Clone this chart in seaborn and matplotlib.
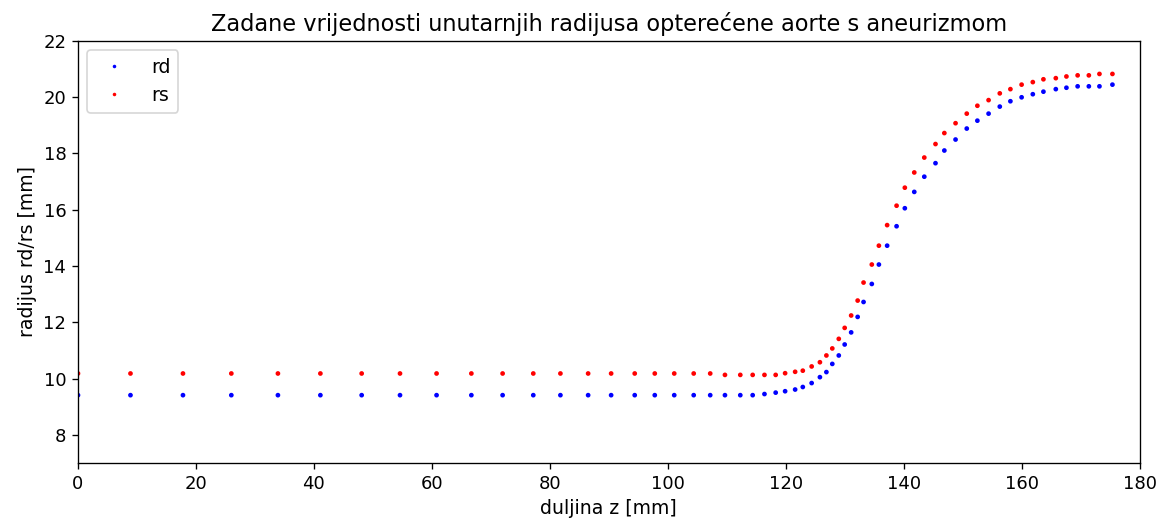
import matplotlib
matplotlib.use("Agg")
import matplotlib.pyplot as plt
import seaborn as sns
import pandas as pd

# Axial positions along the aorta [mm]
z = [0, 8.9, 17.8, 26.0, 33.9, 41.1, 48.1, 54.6, 60.8, 66.7,
     72.0, 77.2, 81.8, 86.5, 90.4, 94.4, 97.8, 101.1, 104.4, 107.2,
     109.7, 112.3, 114.4, 116.4, 118.3, 119.9, 121.6, 122.9, 124.4, 125.8,
     126.9, 127.9, 129.0, 130.0, 131.1, 132.2, 133.2, 134.6, 135.8, 137.2,
     138.8, 140.2, 141.8, 143.5, 145.4, 146.9, 148.8, 150.7, 152.5, 154.4,
     156.3, 158.1, 160.0, 161.9, 163.7, 165.8, 167.6, 169.5, 171.4, 173.2,
     175.4]

# Inner radius, diastolic [mm]
rd = [9.41] * 23 + [9.45, 9.50, 9.55, 9.61, 9.70, 9.84, 10.05, 10.23, 10.52,
      10.82, 11.21, 11.64, 12.19, 12.72, 13.36, 14.05, 14.72, 15.41, 16.05,
      16.63, 17.17, 17.65, 18.10, 18.49, 18.88, 19.16, 19.41, 19.66, 19.85,
      19.99, 20.10, 20.19, 20.28, 20.33, 20.38, 20.38, 20.38, 20.44]

# Inner radius, systolic [mm]
rs = [10.18] * 20 + [10.13] * 5 + [10.19, 10.24, 10.28, 10.43, 10.58, 10.82,
      11.07, 11.41, 11.80, 12.24, 12.77, 13.41, 14.05, 14.72, 15.45, 16.14,
      16.78, 17.32, 17.85, 18.33, 18.72, 19.07, 19.41, 19.69, 19.89, 20.13,
      20.28, 20.44, 20.53, 20.63, 20.67, 20.73, 20.77, 20.77, 20.82, 20.82]

df = pd.concat([
    pd.DataFrame({"z": z, "r": rd, "serija": "rd"}),
    pd.DataFrame({"z": z, "r": rs, "serija": "rs"}),
])

plt.rcParams["font.family"] = ["DejaVu Sans"]
plt.rcParams["font.size"] = 10.8
fig = plt.figure(figsize=(9.7, 4.35), dpi=120)
ax = fig.add_axes([0.067, 0.113, 0.912, 0.809])

sns.scatterplot(data=df, x="z", y="r", hue="serija",
                palette={"rd": "blue", "rs": "red"},
                s=8, linewidth=0, marker="o", ax=ax)

ax.set_xlim(0, 180)
ax.set_ylim(7, 22)
ax.set_xticks(range(0, 181, 20))
ax.set_yticks(range(8, 23, 2))
ax.tick_params(labelsize=10.8)
ax.set_xlabel("duljina z [mm]", fontsize=11.3)
ax.set_ylabel("radijus rd/rs [mm]", fontsize=11.3)
ax.set_title("Zadane vrijednosti unutarnjih radijusa opterećene aorte s aneurizmom",
             fontsize=13.5)
ax.legend(loc="upper left", title=None, markerscale=0.75, fontsize=11.3,
          handletextpad=1.0)

fig.savefig("out.png", dpi=120)
